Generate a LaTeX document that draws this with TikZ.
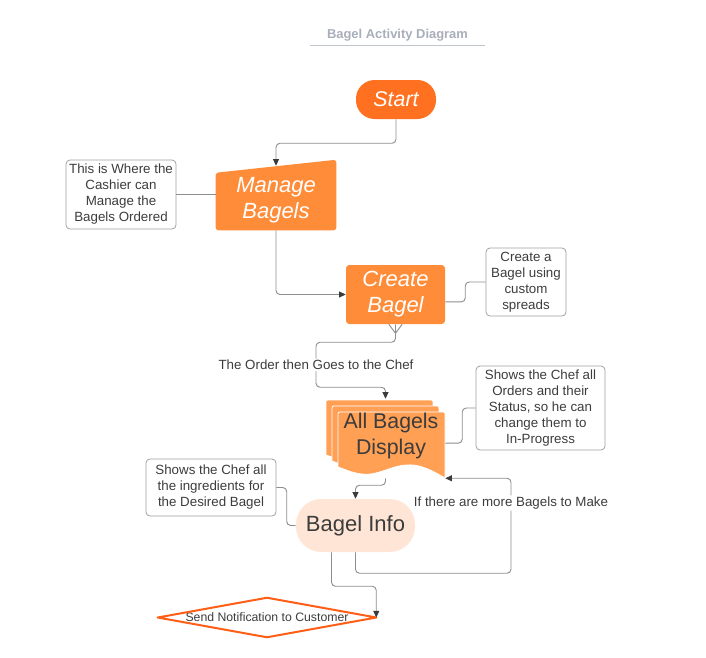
\documentclass[tikz,border=0pt]{standalone}
\usepackage{fontspec}
\setmainfont{Liberation Sans}
\usetikzlibrary{arrows.meta, backgrounds}
\definecolor{StartOrange}{HTML}{FF7120}
\definecolor{BoxOrange}{HTML}{FF8C38}
\definecolor{DocOrange}{HTML}{FFA055}
\definecolor{InfoPeach}{HTML}{FFE5D5}
\definecolor{DiamondOrange}{HTML}{FF5E17}
\definecolor{LineGray}{HTML}{8E8E8E}
\definecolor{NoteGray}{HTML}{A0A0A0}
\definecolor{TipDark}{HTML}{3B3B3B}
\definecolor{TextDark}{HTML}{3C3C3C}
\definecolor{TitleGray}{HTML}{A8AEBA}
\definecolor{TitleLine}{HTML}{C0C4CC}

\begin{document}
\begin{tikzpicture}[x=0.75pt, y=-0.75pt,
    note/.style={draw=NoteGray, rounded corners=3pt, text=TextDark, align=center,
      font=\fontsize{10}{12}\selectfont, inner sep=0pt, line width=0.6pt},
    link/.style={draw=LineGray, line width=0.7pt, rounded corners=3pt},
    flow/.style={link, -{Triangle[length=5pt, width=4.5pt, color=TipDark]}},
    bigtext/.style={align=center, font=\fontsize{16.5}{19.5}\selectfont\itshape,
      text=white, inner sep=0pt},
    pathlabel/.style={fill=white, inner sep=1pt, text=TextDark, font=\fontsize{10}{12}\selectfont}]
  \useasboundingbox (0,0) rectangle (706,657);

  % title
  \node (title) [anchor=base, minimum width=131.25pt, inner ysep=0pt, text depth=4.9pt,
    text=TitleGray, font=\fontsize{9.7}{12}\selectfont\bfseries] at (397.5,38.5) {Bagel Activity Diagram};
  \draw[TitleLine, line width=1.1pt] (title.south west) -- (title.south east);

  % activities
  \node (start) [bigtext, fill=StartOrange, rounded corners=14pt, minimum width=60pt,
    minimum height=29.25pt, font=\fontsize{16}{19}\selectfont\itshape] at (396,99.5) {Start};
  \node (manage) [bigtext, minimum width=90pt, minimum height=48pt] at (276,200) {Manage\\Bagels};
  \node (create) [bigtext, fill=BoxOrange, rounded corners=2.5pt, minimum width=74.25pt,
    minimum height=44.25pt] at (395.5,294.5) {Create\\Bagel};
  \node (display) [minimum width=89.25pt, minimum height=59.25pt, inner sep=0pt] at (385.5,438.5) {};
  \node (displaytext) [align=center, font=\fontsize{16}{19}\selectfont, text=TextDark,
    inner sep=0pt] at (391,436) {All Bagels\\Display};
  \node (info) [fill=InfoPeach, rounded corners=19pt, minimum width=89.25pt, minimum height=39.75pt,
    font=\fontsize{16.5}{20}\selectfont, text=TextDark] at (355.5,525.5) {Bagel Info};
  \node (send) [minimum width=163.5pt, minimum height=29.25pt, inner sep=0pt,
    font=\fontsize{9.2}{11}\selectfont, text=TextDark] at (267,617.5) {Send Notification to Customer};

  % notes
  \node (cashiernote) [note, minimum width=82.5pt, minimum height=51.75pt] at (121,194.5)
    {This is Where the\\Cashier can\\Manage the\\Bagels Ordered};
  \node (spreadnote) [note, minimum width=60pt, minimum height=51pt] at (526,282)
    {Create a\\Bagel using\\custom\\spreads};
  \node (ordersnote) [note, minimum width=96.75pt, minimum height=63pt] at (540.5,408)
    {Shows the Chef all\\Orders and their\\Status, so he can\\change them to\\In-Progress};
  \node (ingrednote) [note, minimum width=97.5pt, minimum height=42.75pt] at (211,487.5)
    {Shows the Chef all\\the ingredients for\\the Desired Bagel};

  \begin{scope}[on background layer]
    \fill[BoxOrange, rounded corners=2pt] ([yshift=-3.75pt]manage.north west)
      -- ([yshift=6pt]manage.north east) -- ([yshift=1.5pt]manage.south east)
      -- ([yshift=1.5pt]manage.south west) -- cycle;
    \foreach \o in {12,6,0} {
      \filldraw[fill=DocOrange, draw=white, line width=0.6pt, shift={(338-\o,412-\o)}]
        (0,55) -- (0,4) .. controls (0,0) .. (4,0) -- (103,0) .. controls (107,0) .. (107,4)
        -- (107,66) .. controls (90,56) and (80,52) .. (68,53)
        .. controls (52,54) and (40,64) .. (24,62) .. controls (14,61) and (6,57) .. (0,55) -- cycle;
    }
  \end{scope}
  \draw[DiamondOrange, line width=1.5pt, line join=round] (send.west) -- (send.north) -- (send.east) -- (send.south) -- cycle;

  % connectors
  \draw[flow] (start.south) -- ++(0,24) -| ([yshift=1.5pt]manage.north);
  \draw[link] (cashiernote.east) -- (cashiernote.east -| manage.west);
  \draw[flow] ([yshift=1.5pt]manage.south) |- (create.west);
  \draw[link] ([yshift=-5.5pt]create.east) -- ++(20,0) |- (spreadnote.west);
  \draw[link, sharp corners] ([xshift=-5pt]create.south) -- ([yshift=-6.75pt]create.south) -- ([xshift=5pt]create.south);
  \draw[flow] (create.south) -- ++(0,18) -- ++(-79.5,0)
    -- node[pathlabel] (chefline) {The Order then Goes to the Chef} ++(0,45) -| (display.north);
  \draw[link] ([yshift=-3.5pt]display.east) -- ++(17,0) |- (ordersnote.west);
  \draw[flow] (display.south) -- ++(0,7) -| (info.north);
  \draw[link] (info.west) -- ++(-9,0) |- (ingrednote.east);
  \draw[flow] (info.south) -- ++(0,21) -- ++(155.5,0)
    -- node[pathlabel, pos=0.74] (moreline) {If there are more Bagels to Make} ++(0,-95) -- (display.south east);
  \draw[flow] ([xshift=-18pt]info.south) -- ++(0,34) -| (send.east);
\end{tikzpicture}
\end{document}
